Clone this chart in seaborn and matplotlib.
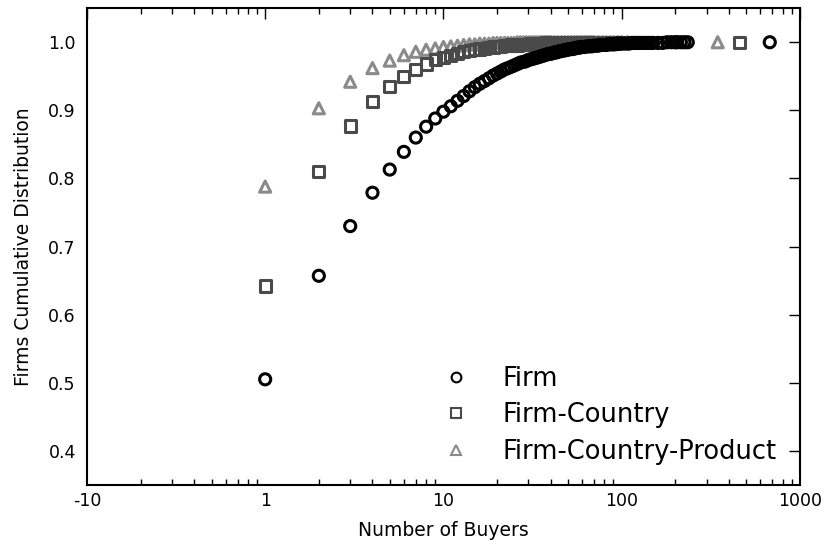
import numpy as np
import pandas as pd
import matplotlib
matplotlib.use("Agg")
import matplotlib.pyplot as plt
from matplotlib.lines import Line2D
from matplotlib.ticker import LogLocator, NullFormatter
import seaborn as sns

# Cumulative share of firms with at most N buyers
firm_x = list(range(1, 61)) + list(range(62, 101, 2)) + list(range(105, 151, 5)) + \
    [160, 170, 180, 190, 200, 205, 215, 225, 235, 678]
firm_y = [0.505, 0.657, 0.730, 0.779, 0.813, 0.839, 0.860, 0.876, 0.888, 0.898,
          0.906, 0.914, 0.921, 0.928, 0.934, 0.939, 0.943, 0.947, 0.951, 0.954,
          0.957, 0.960, 0.962, 0.964, 0.966, 0.968, 0.970, 0.971, 0.972, 0.974,
          0.975, 0.976, 0.977, 0.978, 0.979, 0.980, 0.981, 0.982, 0.983, 0.983,
          0.984, 0.985, 0.985, 0.986, 0.987, 0.987, 0.988, 0.988, 0.989, 0.989,
          0.990, 0.990, 0.990, 0.991, 0.991, 0.992, 0.992, 0.992, 0.993, 0.993,
          0.993, 0.994, 0.994, 0.994, 0.995, 0.995, 0.995, 0.996, 0.996, 0.996,
          0.996, 0.997, 0.997, 0.997, 0.997, 0.997, 0.998, 0.998, 0.998, 0.998,
          0.998, 0.998, 0.999, 0.999, 0.999, 0.999, 0.999, 0.999, 0.999, 0.999,
          0.999, 0.999, 1.000, 1.000, 1.000, 1.000, 1.000, 1.000, 1.000, 1.000]

country_x = list(range(1, 41)) + list(range(42, 71, 2)) + [74, 78, 82, 86, 90, 95, 100, 105, 112, 121, 457]
country_y = [0.642, 0.810, 0.877, 0.913, 0.935, 0.950, 0.960, 0.968, 0.974, 0.978,
             0.981, 0.984, 0.986, 0.988, 0.989, 0.990, 0.991, 0.992, 0.993, 0.994,
             0.994, 0.995, 0.995, 0.996, 0.996, 0.996, 0.997, 0.997, 0.997, 0.997,
             0.998, 0.998, 0.998, 0.998, 0.998, 0.998, 0.998, 0.999, 0.999, 0.999,
             0.999, 0.999, 0.999, 0.999, 0.999, 0.999, 0.999, 0.999, 1.000, 1.000,
             1.000, 1.000, 1.000, 1.000, 1.000,
             1.000, 1.000, 1.000, 1.000, 1.000, 1.000, 1.000, 1.000, 1.000, 1.000, 1.000]

product_x = list(range(1, 41)) + list(range(42, 71, 2)) + [74, 78, 82, 86, 90, 95, 100, 108, 346]
product_y = [0.788, 0.903, 0.942, 0.962, 0.973, 0.981, 0.986, 0.989, 0.991, 0.993,
             0.994, 0.995, 0.996, 0.997, 0.997, 0.998, 0.998, 0.998, 0.999, 0.999,
             0.999, 0.999, 0.999, 0.999, 0.999, 1.000, 1.000, 1.000, 1.000, 1.000,
             1.000, 1.000, 1.000, 1.000, 1.000, 1.000, 1.000, 1.000, 1.000, 1.000,
             1.000, 1.000, 1.000, 1.000, 1.000, 1.000, 1.000, 1.000, 1.000, 1.000,
             1.000, 1.000, 1.000, 1.000, 1.000,
             1.000, 1.000, 1.000, 1.000, 1.000, 1.000, 1.000, 1.000, 1.000]

series_names = ["Firm", "Firm-Country", "Firm-Country-Product"]
x_tick_values = [0.1, 1, 10, 100, 1000]
x_tick_labels = ["-10", "1", "10", "100", "1000"]
y_tick_values = [0.4, 0.5, 0.6, 0.7, 0.8, 0.9, 1.0]

df = pd.concat([
    pd.DataFrame({"buyers": firm_x, "share": firm_y, "level": series_names[0]}),
    pd.DataFrame({"buyers": country_x, "share": country_y, "level": series_names[1]}),
    pd.DataFrame({"buyers": product_x, "share": product_y, "level": series_names[2]}),
], ignore_index=True)

sns.set_style("white")
plt.rcParams["font.family"] = ["DejaVu Sans"]
plt.rcParams.update({"text.color": "black", "axes.labelcolor": "black",
                     "xtick.color": "black", "ytick.color": "black"})

colors = {"Firm": "#000000", "Firm-Country": "#4a4a4a", "Firm-Country-Product": "#8a8a8a"}
markers = {"Firm": "o", "Firm-Country": "s", "Firm-Country-Product": "^"}

fig = plt.figure(figsize=(8.28, 5.46), dpi=100)
ax = fig.add_axes([0.105, 0.112, 0.861, 0.873])

for name in ["Firm-Country-Product", "Firm-Country", "Firm"]:
    sub = df[df["level"] == name]
    sns.scatterplot(data=sub, x="buyers", y="share", ax=ax, marker=markers[name],
                    s=64, facecolors="none", edgecolors=colors[name],
                    linewidths=2.2, legend=False, zorder=3)

ax.set_xscale("log")
ax.set_xlim(0.1, 1000)
ax.set_ylim(0.35, 1.05)
ax.set_xticks(x_tick_values)
ax.set_xticklabels(x_tick_labels)
ax.xaxis.set_minor_locator(LogLocator(base=10, subs=np.arange(2, 10)))
ax.xaxis.set_minor_formatter(NullFormatter())
ax.set_yticks(y_tick_values)
ax.set_yticklabels([f"{v:.1f}" for v in y_tick_values])

ax.tick_params(axis="both", which="major", direction="in", length=8, width=1,
               labelsize=12.5, top=True, right=True)
ax.tick_params(axis="x", which="major", pad=5)
ax.tick_params(axis="y", which="major", pad=8)
ax.tick_params(axis="x", which="minor", direction="in", length=4, width=1,
               top=True, bottom=True)
for sp in ax.spines.values():
    sp.set_linewidth(1.5)
    sp.set_color("black")

ax.set_xlabel("Number of Buyers", fontsize=13.5, labelpad=8)
ax.set_ylabel("Firms Cumulative Distribution", fontsize=13.5, labelpad=11)

handles = [Line2D([], [], linestyle="none", marker=markers[n], markersize=7,
                  markerfacecolor="none", markeredgecolor=colors[n], markeredgewidth=1.5)
           for n in series_names]
ax.legend(handles, series_names, loc="lower right", frameon=False, fontsize=18.5,
          handletextpad=0.8, labelspacing=0.4, bbox_to_anchor=(1.0, -0.006))

fig.savefig("out.png", dpi=100)
